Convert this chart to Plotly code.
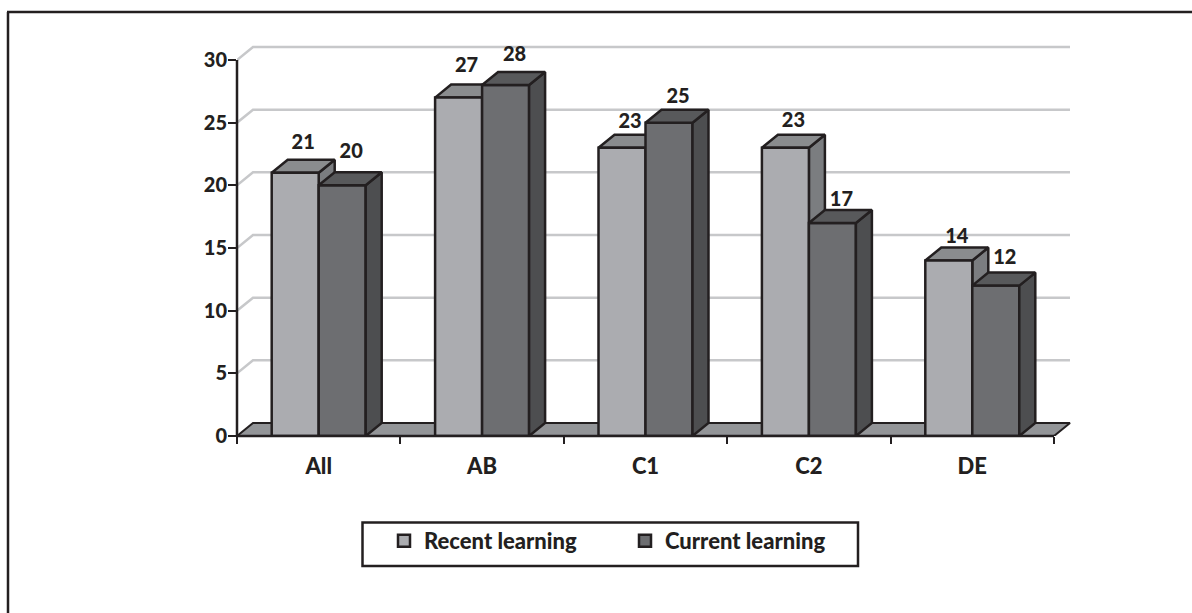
import plotly.graph_objects as go

# Data
categories = ["All", "AB", "C1", "C2", "DE"]
recent_learning = [21, 27, 23, 23, 14]
current_learning = [20, 28, 25, 17, 12]
y_ticks = [0, 5, 10, 15, 20, 25, 30]

# Layout in pixels
W, H = 1192, 613
LEFT, RIGHT, TOP, BOTTOM = 237, 1054, 60, 436   # the axes' 0..30 / category box
AREA_RIGHT, AREA_TOP = 1085, 36                  # drawing area including the 3-D depth
n = len(categories)
unit_x = (RIGHT - LEFT) / n
unit_y = (BOTTOM - TOP) / 30
DX = 16 / unit_x   # 3-D depth, in data units
DY = 13 / unit_y
BAR = 47 / unit_x
INK = "#231f20"
FONT = "Lato"
EDGE = 2.5

# Label lift above each bar top, px
RECENT_LIFT = [29, 31, 25, 26, 23]
CURRENT_LIFT = [32, 29, 25, 22, 27]

def paper_x(p): return (p - LEFT) / (AREA_RIGHT - LEFT)
def paper_y(p): return (BOTTOM - p) / (BOTTOM - AREA_TOP)

positions = list(range(n))
x_lo, x_hi = -0.5, n - 0.5
x_range = [x_lo, x_lo + (AREA_RIGHT - LEFT) / unit_x]
y_range = [0, (BOTTOM - AREA_TOP) / unit_y]

def poly(xs, ys, fill, axes="xy", line=INK, width=EDGE):
    return go.Scatter(x=xs + xs[:1], y=ys + ys[:1], mode="lines", fill="toself",
                      fillcolor=fill, line=dict(color=line, width=width),
                      hoverinfo="skip", showlegend=False,
                      xaxis="x" if axes == "xy" else "x2",
                      yaxis="y" if axes == "xy" else "y2")

def box3d(left, right, v, top_col, side_col, axes):
    return [
        poly([right, right + DX, right + DX, right], [0, DY, v + DY, v], side_col, axes),
        poly([left, left + DX, right + DX, right], [v, v + DY, v + DY, v], top_col, axes),
    ]

fig = go.Figure()

# Gridlines on the side wall and back wall
for t in y_ticks[1:]:
    fig.add_trace(go.Scatter(
        x=[x_lo, x_lo + DX, x_hi + DX], y=[t, t + DY, t + DY], mode="lines",
        line=dict(color="#c7c8ca", width=2.5), hoverinfo="skip", showlegend=False))

# Floor
fig.add_trace(poly([x_lo, x_lo + DX, x_hi + DX, x_hi], [0, DY, DY, 0], "#939598", width=2))

# Recent-learning depth faces (behind the front bars)
for p, v in zip(positions, recent_learning):
    for tr in box3d(p - BAR, p, v, "#8a8c8e", "#7b7d80", "xy"):
        fig.add_trace(tr)

# Front faces
fig.add_trace(go.Bar(name="Recent learning", x=positions, y=recent_learning,
                     marker=dict(color="#abacb0", line=dict(color=INK, width=EDGE)),
                     xaxis="x2", yaxis="y2"))
fig.add_trace(go.Bar(name="Current learning", x=positions, y=current_learning,
                     marker=dict(color="#6d6e71", line=dict(color=INK, width=EDGE)),
                     xaxis="x2", yaxis="y2"))

# Current-learning depth faces
for p, v in zip(positions, current_learning):
    for tr in box3d(p, p + BAR, v, "#58595b", "#4d4e50", "x2y2"):
        fig.add_trace(tr)

# Value labels
label_font = dict(family=FONT, size=20, color=INK, weight=900)
fig.add_trace(go.Scatter(
    x=[p - BAR / 2 + DX / 2 for p in positions],
    y=[v + lift / unit_y for v, lift in zip(recent_learning, RECENT_LIFT)],
    text=[str(v) for v in recent_learning], mode="text", textfont=label_font,
    hoverinfo="skip", showlegend=False, cliponaxis=False, xaxis="x2", yaxis="y2"))
fig.add_trace(go.Scatter(
    x=[p + BAR / 2 + DX / 2 + 1 / unit_x for p in positions],
    y=[v + lift / unit_y for v, lift in zip(current_learning, CURRENT_LIFT)],
    text=[str(v) for v in current_learning], mode="text", textfont=label_font,
    hoverinfo="skip", showlegend=False, cliponaxis=False, xaxis="x2", yaxis="y2"))

def pline(x0, y0, x1, y1, width=2):
    return dict(type="line", xref="paper", yref="paper",
                x0=paper_x(x0), x1=paper_x(x1), y0=paper_y(y0), y1=paper_y(y1),
                line=dict(color=INK, width=width), layer="above")

shapes = [
    # outer frame: left and top edges only, running off the page
    pline(8, 12, 8, H + 2, 2.5),
    pline(7, 12, W + 2, 12, 2.5),
    # legend frame
    dict(type="rect", xref="paper", yref="paper",
         x0=paper_x(362.5), x1=paper_x(858), y0=paper_y(566), y1=paper_y(522.5),
         line=dict(color=INK, width=2.5), layer="below"),
    # axis lines, which stop at the axis box
    pline(LEFT, TOP, LEFT, BOTTOM + 1, 2.5),
    pline(LEFT, BOTTOM, RIGHT, BOTTOM, 2.5),
]

fig.update_layout(
    width=W, height=H, autosize=False,
    margin=dict(l=LEFT, r=W - AREA_RIGHT, t=AREA_TOP, b=H - BOTTOM, pad=0),
    plot_bgcolor="white", paper_bgcolor="white",
    barmode="group", bargap=1 - 2 * BAR, bargroupgap=0,
    showlegend=True, shapes=shapes,
    font=dict(family=FONT, color=INK),
    legend=dict(orientation="h", x=paper_x(384), y=paper_y(520),
                xanchor="left", yanchor="top",
                font=dict(family=FONT, size=22, color=INK, weight=900),
                bgcolor="rgba(0,0,0,0)", borderwidth=0,
                entrywidth=196, entrywidthmode="pixels", itemclick=False,
                itemdoubleclick=False, traceorder="normal"),
    xaxis=dict(range=x_range, tickmode="array", tickvals=positions,
               ticktext=categories, ticks="", ticklabelstandoff=15,
               showgrid=False, zeroline=False, showline=False,
               tickfont=dict(family=FONT, size=22, color=INK, weight=900),
               minor=dict(tick0=x_lo, dtick=1, ticks="outside", ticklen=7,
                          tickwidth=2, tickcolor=INK, showgrid=False)),
    yaxis=dict(range=y_range, tickmode="array", tickvals=y_ticks,
               ticks="outside", ticklen=8, tickwidth=2, tickcolor=INK,
               showgrid=False, zeroline=False, showline=False,
               ticklabelstandoff=-3,
               tickfont=dict(family=FONT, size=20, color=INK, weight=900)),
    xaxis2=dict(range=x_range, overlaying="x", visible=False),
    yaxis2=dict(range=y_range, overlaying="y", visible=False),
)

fig.write_html("out.html", config=dict(displayModeBar=False),
               post_script="document.body.style.margin='0';document.body.style.overflow='hidden';")
